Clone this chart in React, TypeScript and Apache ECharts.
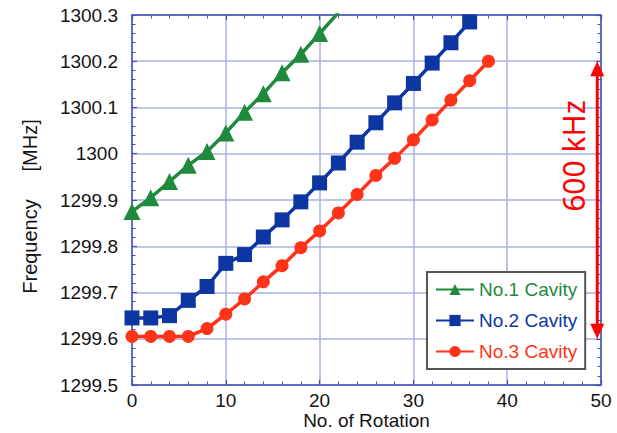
import React, { useEffect, useRef } from "react";
import * as echarts from "echarts";

// Rotation counts (x) for each cavity
const rotations1 = [0, 2, 4, 6, 8, 10, 12, 14, 16, 18, 20, 22];
const rotations2 = [0, 2, 4, 6, 8, 10, 12, 14, 16, 18, 20, 22, 24, 26, 28, 30, 32, 34, 36];
const rotations3 = [0, 2, 4, 6, 8, 10, 12, 14, 16, 18, 20, 22, 24, 26, 28, 30, 32, 34, 36, 38];

// Measured frequencies [MHz]
const cavity1 = [1299.875, 1299.905, 1299.94, 1299.975, 1300.005, 1300.045, 1300.09, 1300.13, 1300.175, 1300.215, 1300.26, 1300.305];
const cavity2 = [1299.645, 1299.645, 1299.65, 1299.683, 1299.713, 1299.763, 1299.782, 1299.82, 1299.857, 1299.896, 1299.937, 1299.98, 1300.025, 1300.067, 1300.11, 1300.152, 1300.196, 1300.24, 1300.285];
const cavity3 = [1299.605, 1299.605, 1299.605, 1299.605, 1299.622, 1299.653, 1299.686, 1299.723, 1299.758, 1299.797, 1299.833, 1299.872, 1299.912, 1299.953, 1299.99, 1300.03, 1300.073, 1300.116, 1300.158, 1300.2];

const seriesNames = ["No.1 Cavity", "No.2 Cavity", "No.3 Cavity"];
const seriesColors = ["#1f8a3c", "#0d36a3", "#ff3318"];

// Tuning range annotation (600 kHz span)
const spanLow = 1299.6;
const spanHigh = 1300.2;
const spanLabel = "600 kHz";
const spanX = 49.6;

const X_MIN = 0, X_MAX = 50, X_STEP = 10;
const Y_MIN = 1299.5, Y_MAX = 1300.3, Y_STEP = 0.1;

const FONT = "'Liberation Sans', Arial, sans-serif";
const TEXT = "#141414";
const AXIS_BLUE = "#4050b4";
const GRID_BLUE = "#aab1e2";

const pairs = (xs: number[], ys: number[]) => xs.map((x, i) => [x, ys[i]]);

export default function App() {
  const ref = useRef<HTMLDivElement>(null);

  useEffect(() => {
    if (!ref.current) return;
    const chart = echarts.init(ref.current, undefined, { renderer: "svg" });

    const frameAxis = (extra: any) => ({
      axisLine: { show: true, onZero: false, lineStyle: { color: AXIS_BLUE, width: 1.5 } },
      axisTick: { show: true, inside: true, length: 5, lineStyle: { color: AXIS_BLUE, width: 1.2 } },
      minorTick: { show: true, splitNumber: 5, length: 3.5, lineStyle: { color: AXIS_BLUE, width: 1 } },
      ...extra,
    });

    const symbols = ["triangle", "rect", "circle"];
    const sizes = [17, 15, 13];
    const data = [pairs(rotations1, cavity1), pairs(rotations2, cavity2), pairs(rotations3, cavity3)];

    chart.setOption({
      animation: false,
      backgroundColor: "#ffffff",
      grid: { left: 132, top: 15, right: 16, bottom: 48, containLabel: false, outerBoundsMode: "none" },
      xAxis: [
        frameAxis({
          type: "value",
          min: X_MIN,
          max: X_MAX,
          interval: X_STEP,
          position: "bottom",
          name: "No. of Rotation",
          nameLocation: "middle",
          nameGap: 26,
          nameMoveOverlap: false,
          nameTextStyle: { fontFamily: FONT, fontSize: 19, color: TEXT, lineHeight: 19 },
          axisLabel: { margin: 6, fontFamily: FONT, fontSize: 19, color: TEXT },
          splitLine: { show: true, lineStyle: { color: GRID_BLUE, width: 1.5 } },
        }),
        frameAxis({
          type: "value",
          min: X_MIN,
          max: X_MAX,
          interval: X_STEP,
          position: "top",
          axisLabel: { show: false },
          splitLine: { show: false },
        }),
      ],
      yAxis: [
        frameAxis({
          type: "value",
          min: Y_MIN,
          max: Y_MAX,
          interval: Y_STEP,
          position: "left",
          name: "Frequency     [MHz]",
          nameLocation: "middle",
          nameGap: 92,
          nameMoveOverlap: false,
          nameTextStyle: { fontFamily: FONT, fontSize: 20, color: TEXT, padding: [0, 13, 0, 0] },
          axisLabel: {
            margin: 14,
            fontFamily: FONT,
            fontSize: 19,
            color: TEXT,
            formatter: (v: number) => String(+v.toFixed(1)),
          },
          splitLine: { show: true, lineStyle: { color: GRID_BLUE, width: 1.5 } },
        }),
        frameAxis({
          type: "value",
          min: Y_MIN,
          max: Y_MAX,
          interval: Y_STEP,
          position: "right",
          axisLabel: { show: false },
          splitLine: { show: false },
        }),
      ],
      legend: {
        orient: "vertical",
        left: 427,
        top: 272,
        padding: [8, 8, 8, 8],
        itemGap: 12,
        itemWidth: 38,
        itemHeight: 14,
        backgroundColor: "#ffffff",
        borderColor: "#555555",
        borderWidth: 2,
        borderRadius: 0,
        textStyle: { fontFamily: FONT, fontSize: 19 },
        data: seriesNames.map((n, i) => ({ name: n, textStyle: { color: seriesColors[i] } })),
      },
      series: seriesNames.map((name, i) => ({
        name,
        type: "line",
        xAxisIndex: 0,
        yAxisIndex: 0,
        data: data[i],
        symbol: symbols[i],
        symbolSize: sizes[i],
        showAllSymbol: true,
        clip: true,
        color: seriesColors[i],
        lineStyle: { color: seriesColors[i], width: 3.5 },
        itemStyle: { color: seriesColors[i] },
        z: 3 - i + 2,
      })),
    });

    // Double-headed arrow marking the tuning span, positioned through the axes
    const top = chart.convertToPixel({ xAxisIndex: 0, yAxisIndex: 0 }, [spanX, spanHigh]) as number[];
    const bot = chart.convertToPixel({ xAxisIndex: 0, yAxisIndex: 0 }, [spanX, spanLow]) as number[];
    const ax = top[0];
    const head = 15;
    const half = 7;
    const red = "#ff0000";
    chart.setOption({
      graphic: [
        {
          type: "line",
          shape: { x1: ax, y1: top[1] + head - 2, x2: ax, y2: bot[1] - head + 2 },
          style: { stroke: red, lineWidth: 3 },
          z: 100,
        },
        {
          type: "polygon",
          shape: { points: [[ax, top[1]], [ax - half, top[1] + head], [ax + half, top[1] + head]] },
          style: { fill: red },
          z: 100,
        },
        {
          type: "polygon",
          shape: { points: [[ax, bot[1]], [ax - half, bot[1] - head], [ax + half, bot[1] - head]] },
          style: { fill: red },
          z: 100,
        },
        {
          type: "text",
          x: ax - 24,
          y: (top[1] + bot[1]) / 2 - 44,
          rotation: Math.PI / 2,
          style: {
            text: spanLabel,
            fill: red,
            font: "30px 'Noto Sans', sans-serif",
            textAlign: "center",
            textVerticalAlign: "middle",
          },
          z: 100,
        },
      ],
    });

    return () => chart.dispose();
  }, []);

  return (
    <div
      ref={ref}
      style={{ position: "absolute", left: 0, top: 0, width: 617, height: 433 }}
    />
  );
}
